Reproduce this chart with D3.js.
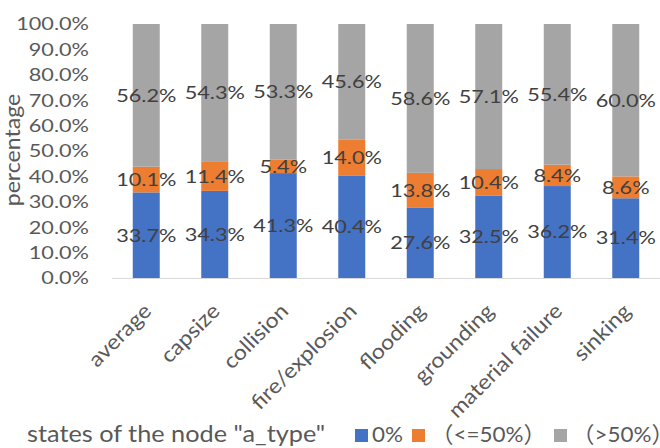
<!DOCTYPE html>
<html>
<head>
<meta charset="utf-8">
<script src="https://cdn.jsdelivr.net/npm/d3@7"></script>
<style>
  html, body { margin: 0; padding: 0; background: #fff; }
  svg { display: block; font-family: Lato, "Noto Sans CJK SC", sans-serif; }
</style>
</head>
<body>
<svg id="chart" width="660" height="448"></svg>
<script>
// Accident types
const categories = ["average", "capsize", "collision", "fire/explosion", "flooding", "grounding", "material failure", "sinking"];
// Share of each state of node "a_type", in percent
const zeroPct   = [33.7, 34.3, 41.3, 40.4, 27.6, 32.5, 36.2, 31.4];
const upTo50Pct = [10.1, 11.4, 5.4, 14.0, 13.8, 10.4, 8.4, 8.6];
const over50Pct = [56.2, 54.3, 53.3, 45.6, 58.6, 57.1, 55.4, 60.0];
// Series names and y-axis ticks
const seriesNames = ["0%", "（<=50%）", "（>50%）"];
const yTicks = [0, 0.1, 0.2, 0.3, 0.4, 0.5, 0.6, 0.7, 0.8, 0.9, 1.0];

const colors = ["#4472C4", "#ED7D31", "#A5A5A5"];
const keys = ["zero", "upTo50", "over50"];

const rows = categories.map((c, i) => ({
  cat: c,
  zero: zeroPct[i] / 100,
  upTo50: upTo50Pct[i] / 100,
  over50: over50Pct[i] / 100
}));

const svg = d3.select("#chart");

const x = d3.scaleBand()
  .domain(categories)
  .range([112, 660])
  .paddingInner(0.606)
  .paddingOuter(0.303);

const y = d3.scaleLinear().domain([0, 1]).range([278, 24]);

const stacked = d3.stack().keys(keys)(rows);

// horizontal widening of glyphs to mimic the wide typeface
const SX_NUM = 1.24;

// y-axis tick labels
const fmt = d3.format(".1%");
svg.append("g")
  .selectAll("text")
  .data(yTicks)
  .join("text")
  .attr("transform", d => `translate(89,${y(d)}) scale(${SX_NUM},1)`)
  .attr("text-anchor", "end")
  .attr("dy", "0.36em")
  .attr("font-size", 17.5)
  .attr("fill", "#595959")
  .text(d => fmt(d));

// bars
const gBars = svg.append("g");
gBars.selectAll("g")
  .data(stacked)
  .join("g")
  .attr("fill", (d, i) => colors[i])
  .selectAll("rect")
  .data(d => d.map(s => ({ s, cat: s.data.cat })))
  .join("rect")
  .attr("x", d => x(d.cat))
  .attr("width", x.bandwidth())
  .attr("y", d => y(d.s[1]))
  .attr("height", d => y(d.s[0]) - y(d.s[1]));

// category axis baseline
svg.append("line")
  .attr("x1", x.range()[0]).attr("x2", x.range()[1])
  .attr("y1", y(0) + 0.5).attr("y2", y(0) + 0.5)
  .attr("stroke", "#D9D9D9").attr("stroke-width", 1);

// data labels centred in each segment
const gLabels = svg.append("g");
stacked.forEach(layer => {
  gLabels.selectAll(null)
    .data(layer)
    .join("text")
    .attr("transform", d => `translate(${x(d.data.cat) + x.bandwidth() / 2},${y((d[0] + d[1]) / 2)}) scale(${SX_NUM},1)`)
    .attr("text-anchor", "middle")
    .attr("dy", "0.36em")
    .attr("font-size", 17.5)
    .attr("fill", "#404040")
    .text(d => d3.format(".1f")((d[1] - d[0]) * 100) + "%");
});

// rotated category labels
svg.append("g")
  .selectAll("text")
  .data(categories)
  .join("text")
  .attr("transform", d => `translate(${x(d) + x.bandwidth() / 2 + 2},308) rotate(-45) scale(1.1,1)`)
  .attr("text-anchor", "end")
  .attr("dy", "0.3em")
  .attr("font-size", 21)
  .attr("fill", "#595959")
  .text(d => d);

// y-axis title
svg.append("text")
  .attr("transform", "translate(20,150) rotate(-90) scale(1.05,1)")
  .attr("text-anchor", "middle")
  .attr("font-size", 22)
  .attr("fill", "#595959")
  .text("percentage");

// legend
const legend = svg.append("g");
legend.append("text")
  .attr("transform", "translate(27,442) scale(1.1,1)")
  .attr("font-size", 23)
  .attr("fill", "#595959")
  .text('states of the node "a_type"');

const legendItems = [
  { sq: 355, tx: 372 },
  { sq: 412, tx: 431 },
  { sq: 554, tx: 572 }
];
legendItems.forEach((it, i) => {
  legend.append("rect")
    .attr("x", it.sq).attr("y", 429)
    .attr("width", 13).attr("height", 13)
    .attr("fill", colors[i]);
  const t = legend.append("text")
    .attr("transform", `translate(${it.tx},442) scale(1.02,1)`)
    .attr("font-size", 22)
    .attr("fill", "#595959");
  const name = seriesNames[i];
  if (name.endsWith("）")) {
    // full-width closing paren: trim its empty right half from the advance
    t.append("tspan").text(name.slice(0, -1));
    t.append("tspan").attr("letter-spacing", "-13px").text("）");
  } else {
    t.text(name);
  }
});
</script>
</body>
</html>
